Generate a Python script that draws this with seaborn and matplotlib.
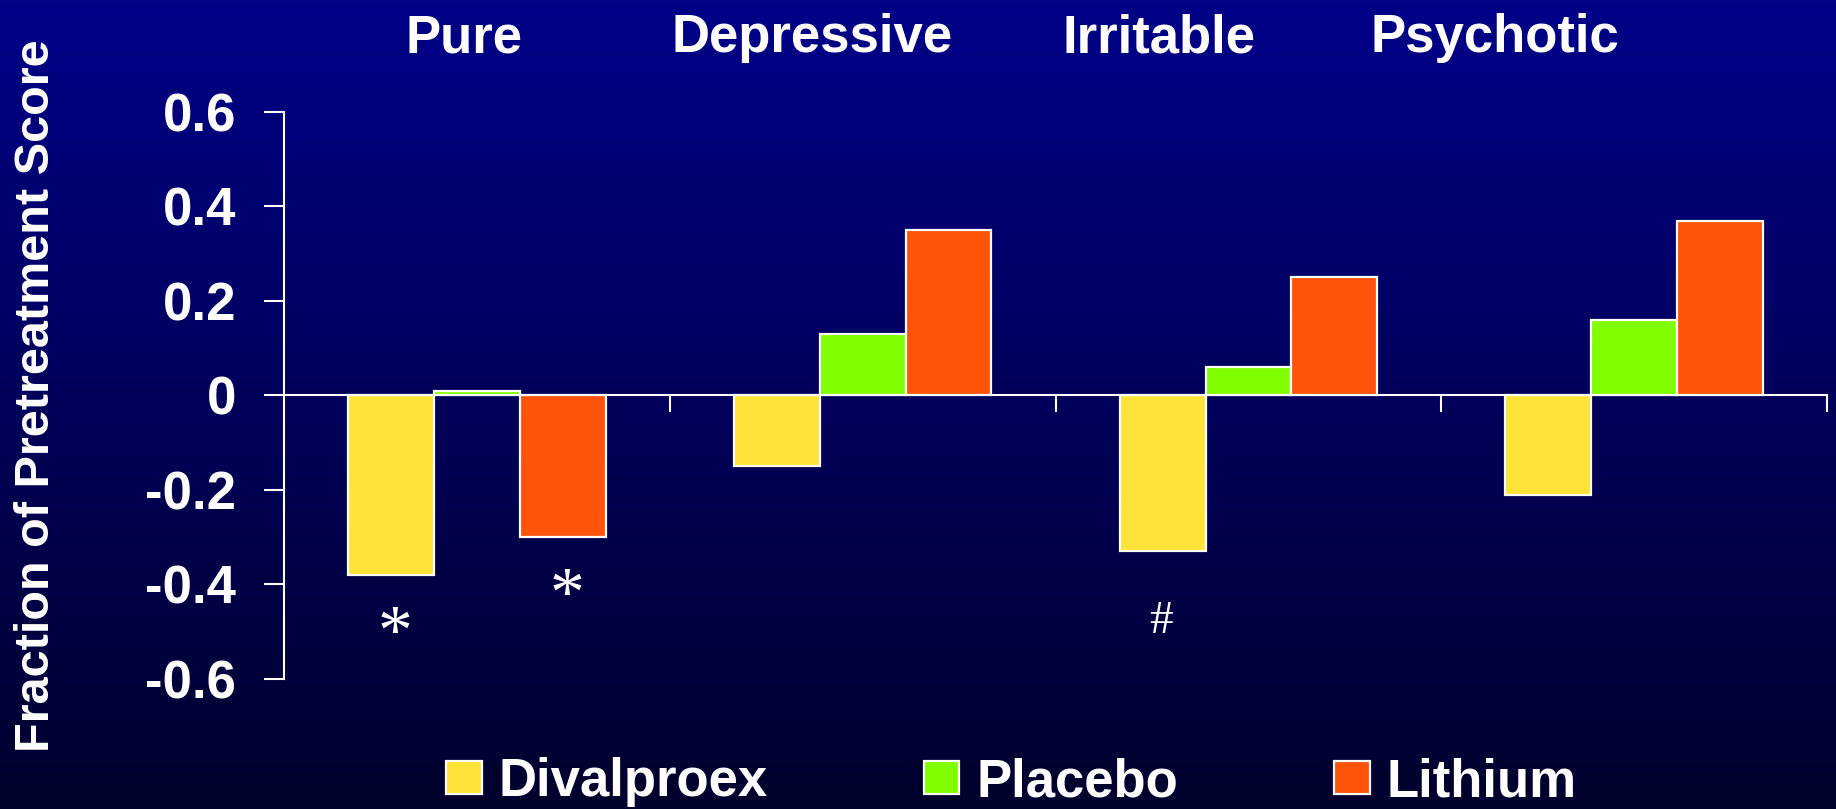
import numpy as np
import pandas as pd
import seaborn as sns
import matplotlib.pyplot as plt
from matplotlib.colors import LinearSegmentedColormap

# dane
groups = ["Pure", "Depressive", "Irritable", "Psychotic"]
treatments = ["Divalproex", "Placebo", "Lithium"]
divalproex = [-0.38, -0.15, -0.33, -0.21]
placebo = [0.01, 0.13, 0.06, 0.16]
lithium = [-0.30, 0.35, 0.25, 0.37]
colors = ["#FFE338", "#80FF00", "#FF5309"]
y_ticks = [-0.6, -0.4, -0.2, 0, 0.2, 0.4, 0.6]
y_ticklabels = ["-0.6", "-0.4", "-0.2", "0", "0.2", "0.4", "0.6"]
# (grupa, lek, znak)
marks = [("Pure", "Divalproex", "*"), ("Pure", "Lithium", "*"), ("Irritable", "Divalproex", "#")]

df = pd.DataFrame({
    "group": np.repeat(groups, 3),
    "treatment": treatments * 4,
    "value": [v for trio in zip(divalproex, placebo, lithium) for v in trio],
})

sns.set_style("white")
plt.rcParams["font.family"] = ["Liberation Sans", "DejaVu Sans"]

fig = plt.figure(figsize=(18.36, 8.09), dpi=100)

# tlo z gradientem
bg = fig.add_axes([0, 0, 1, 1], zorder=-10)
cmap = LinearSegmentedColormap.from_list("bg", ["#000088", "#00002C"])
bg.imshow(np.linspace(0, 1, 256).reshape(-1, 1), aspect="auto", cmap=cmap,
          extent=[0, 1, 0, 1])
bg.axis("off")

ax = fig.add_axes([0.1547, 0.1607, 0.8404, 0.7009])
ax.set_facecolor("none")

sns.barplot(data=df, x="group", y="value", hue="treatment", order=groups,
            hue_order=treatments, palette=colors, width=0.667, gap=0,
            edgecolor="white", linewidth=1.6, saturation=1, ax=ax)

ax.set_xlim(-0.5, 3.5)
ax.set_ylim(-0.6, 0.6)
ax.set_yticks(y_ticks)
ax.set_yticklabels(y_ticklabels, fontsize=38, fontweight="bold", color="white")
ax.set_xticks([0.5, 1.5, 2.5, 3.5])
ax.set_xticklabels([])
ax.tick_params(axis="y", direction="out", length=14.5, width=1.5, color="white", pad=20, left=True)
ax.tick_params(axis="x", direction="out", length=12, width=1.5, color="white", bottom=True)
ax.set_xlabel("")
ax.set_ylabel("Fraction of Pretreatment Score", fontsize=35, fontweight="bold", color="white")
ax.yaxis.set_label_coords(-0.146, 0.5)

for s in ["top", "right"]:
    ax.spines[s].set_visible(False)
ax.spines["left"].set_color("white")
ax.spines["left"].set_linewidth(1.5)
ax.spines["bottom"].set_position(("data", 0))
ax.spines["bottom"].set_color("white")
ax.spines["bottom"].set_linewidth(1.5)
ax.spines["bottom"].set_zorder(5)

# naglowki grup
header_x = [-0.034, 0.868, 1.769, 2.640]
for gx, name in zip(header_x, groups):
    ax.text(gx, 1.13, name, transform=ax.get_xaxis_transform(), ha="center",
            va="center", fontsize=38, fontweight="bold", color="white", clip_on=False)

# oznaczenia istotnosci
offsets = {"*": 0.165, "#": 0.172}
sizes = {"*": 50, "#": 34}
shift = {"*": 0.01, "#": -0.004}
for g, t, m in marks:
    gi, ti = groups.index(g), treatments.index(t)
    bar = ax.containers[ti][gi]
    x = bar.get_x() + bar.get_width() / 2
    y = min(bar.get_y(), bar.get_y() + bar.get_height())
    ax.text(x + shift[m], y - offsets[m], m, ha="center", va="baseline", color="white",
            fontsize=sizes[m], family="Liberation Serif")

sns.move_legend(ax, "center", bbox_to_anchor=(0.551, 0.033), bbox_transform=fig.transFigure,
                ncol=3, frameon=False, title=None,
                prop={"weight": "bold", "size": 38}, labelcolor="white",
                handlelength=0.67, handleheight=0.6, handletextpad=0.33,
                columnspacing=2.95)

fig.savefig("out.png", dpi=100)
